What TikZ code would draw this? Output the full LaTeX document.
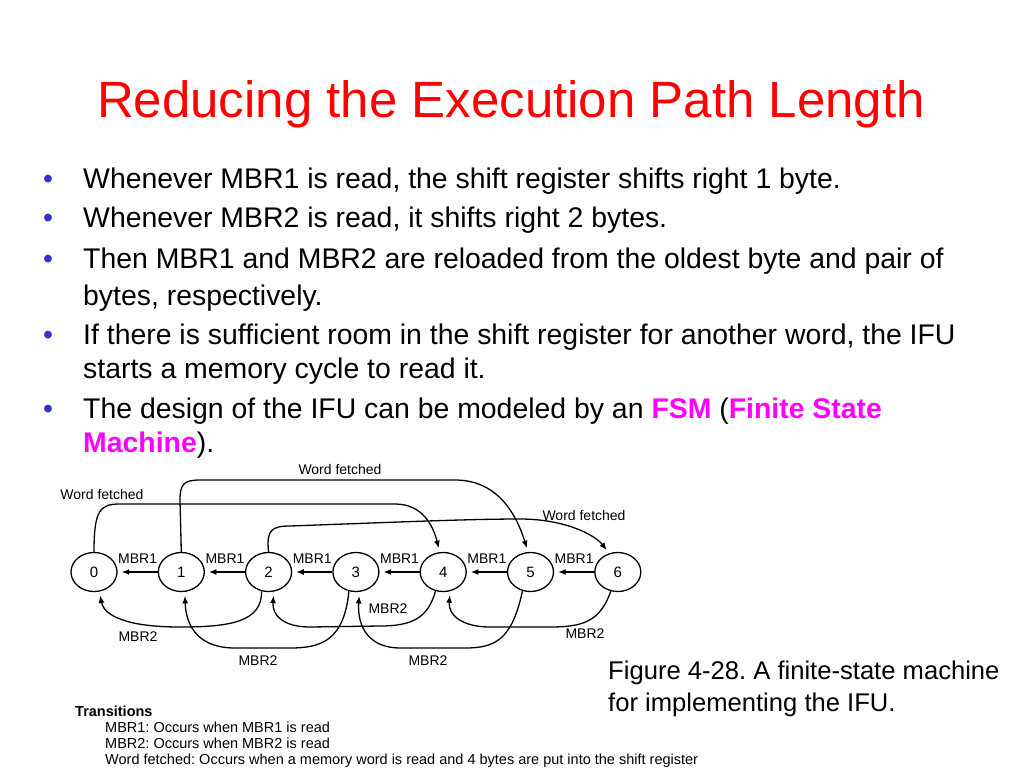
\documentclass[tikz,border=0pt]{standalone}
\usepackage{fontspec}
\setmainfont{Liberation Sans}
\usepackage{xcolor}
\definecolor{Title}{HTML}{FF0000}
\definecolor{Bullet}{HTML}{3333CC}
\definecolor{Hilite}{HTML}{FF00FF}
\usepackage{tikz}
\usetikzlibrary{arrows.meta,positioning,shapes.geometric}
\frenchspacing

\begin{document}
\begin{tikzpicture}[x=1pt,y=-1pt,node distance=40pt,every node/.style={inner sep=0pt},
  state/.style={ellipse,draw,line width=1.3pt,minimum width=46pt,minimum height=39pt,font=\fontsize{15}{16}\selectfont},
  arr/.style={-{Latex[length=7.5pt,width=6pt]},line width=1.3pt,shorten >=4pt},
  lbl/.style={font=\fontsize{14}{16}\selectfont},
  body/.style={anchor=base west,font=\fontsize{28.4}{34}\selectfont},
  dot/.style={anchor=base,text=Bullet,font=\fontsize{28.4}{34}\selectfont},
  note/.style={anchor=base west,font=\fontsize{14.5}{16}\selectfont}]
\useasboundingbox[fill=white] (0,0) rectangle (1024,768);
% title and bullets
\node[anchor=base,text=Title,font=\fontsize{51}{60}\selectfont] (title) at (511,117) {Reducing the Execution Path Length};
\node[dot] (d1) at (48,188) {•};
\node[body] (l1) at (83,188) {Whenever MBR1 is read, the shift register shifts right 1 byte.};
\node[dot] (d2) at (48,227) {•};
\node[body] (l2) at (83,227) {Whenever MBR2 is read, it shifts right 2 bytes.};
\node[dot] (d3) at (48,268) {•};
\node[body] (l3) at (83,268) {Then MBR1 and MBR2 are reloaded from the oldest byte and pair of};
\node[body] (l4) at (83,305) {bytes, respectively.};
\node[dot] (d4) at (48,344) {•};
\node[body] (l5) at (83,344) {If there is sufficient room in the shift register for another word, the IFU};
\node[body] (l6) at (83,378) {starts a memory cycle to read it.};
\node[dot] (d5) at (48,418) {•};
\node[body] (l7) at (83,418) {The design of the IFU can be modeled by an \textcolor{Hilite}{\bfseries FSM} (\textcolor{Hilite}{\bfseries Finite State}};
\node[body] (l8) at (83,452) {\textcolor{Hilite}{\bfseries Machine}).};
% the states
\node[state] (s0) at (94,572) {0};
\node[state,right=of s0] (s1) {1};
\node[state,right=of s1] (s2) {2};
\node[state,right=of s2] (s3) {3};
\node[state,right=of s3] (s4) {4};
\node[state,right=of s4] (s5) {5};
\node[state,right=of s5] (s6) {6};
% MBR1: one byte
\draw[arr] (s1) -- (s0) node[lbl,midway,yshift=13pt] (r0) {MBR1};
\draw[arr] (s2) -- (s1) node[lbl,midway,yshift=13pt] (r1) {MBR1};
\draw[arr] (s3) -- (s2) node[lbl,midway,yshift=13pt] (r2) {MBR1};
\draw[arr] (s4) -- (s3) node[lbl,midway,yshift=13pt] (r3) {MBR1};
\draw[arr] (s5) -- (s4) node[lbl,midway,yshift=13pt] (r4) {MBR1};
\draw[arr] (s6) -- (s5) node[lbl,midway,yshift=13pt] (r5) {MBR1};
% word fetched
\draw[arr] (s0.north) .. controls (94,510) and (100,504) .. (120,504) -- (395,504) .. controls (422,504) and (433,525) .. (s4.100);
\draw[arr] (s1.north) -- (180,500) .. controls (180,484) and (184,480) .. (200,480) -- (455,480) .. controls (495,480) and (515,510) .. (s5.97);
\draw[arr] (s2.north) .. controls (266,530) and (272,526) .. (290,526) .. controls (400,522) and (470,519) .. (520,519) .. controls (565,519) and (595,535) .. (s6.115);
\node[lbl] (w0) at (102,494) {Word fetched};
\node[lbl] (w1) at (340,469) {Word fetched};
\node[lbl] (w2) at (584,515) {Word fetched};
% MBR2: two bytes
\draw[arr] (s2.-110) .. controls (262,622) and (230,627) .. (180,627) .. controls (125,627) and (104,615) .. (s0.-75);
\draw[arr] (s3.-110) .. controls (344,640) and (322,648) .. (290,648) -- (235,648) .. controls (200,648) and (186,628) .. (s1.-80);
\draw[arr] (s4.-112) .. controls (428,618) and (412,626) .. (380,626) -- (310,627) .. controls (283,627) and (272,615) .. (s2.-75);
\draw[arr] (s5.-113) .. controls (512,640) and (495,648) .. (465,648) -- (400,648) .. controls (370,648) and (357,628) .. (s3.-80);
\draw[arr] (s6.-110) .. controls (600,622) and (582,627) .. (550,627) -- (490,627) .. controls (462,627) and (448,615) .. (s4.-70);
\node[lbl] (m0) at (138,637) {MBR2};
\node[lbl] (m1) at (258,661) {MBR2};
\node[lbl] (m2) at (388,609) {MBR2};
\node[lbl] (m3) at (428,661) {MBR2};
\node[lbl] (m4) at (585,634) {MBR2};
% caption and legend
\node[anchor=base west,font=\fontsize{25.6}{30}\selectfont] (cap1) at (608,679) {Figure 4-28. A finite-state machine};
\node[anchor=base west,font=\fontsize{25.6}{30}\selectfont] (cap2) at (608,711) {for implementing the IFU.};
\node[note,font=\fontsize{14.5}{16}\selectfont\bfseries] (tr) at (75,716) {Transitions};
\node[note] (t1) at (105,732) {MBR1: Occurs when MBR1 is read};
\node[note] (t2) at (105,748) {MBR2: Occurs when MBR2 is read};
\node[note] (t3) at (105,764) {Word fetched: Occurs when a memory word is read and 4 bytes are put into the shift register};
\end{tikzpicture}
\end{document}
